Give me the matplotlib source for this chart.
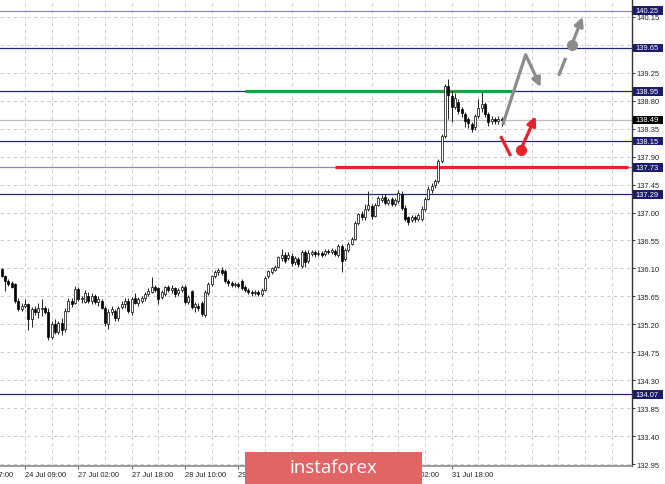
import matplotlib.pyplot as plt
import matplotlib.transforms as mtransforms
from matplotlib.patches import Rectangle

# hourly candles (oldest first)
opens = [136.09, 135.98, 135.90, 135.86, 135.85, 135.58, 135.45, 135.50, 135.53, 135.28,
         135.45, 135.40, 135.44, 135.47, 135.40, 134.99, 135.20, 135.08, 135.22, 135.12,
         135.42, 135.58, 135.55, 135.77, 135.60, 135.56, 135.66, 135.58, 135.65, 135.56,
         135.58, 135.47, 135.20, 135.40, 135.42, 135.30, 135.48, 135.53, 135.58, 135.40,
         135.62, 135.55, 135.58, 135.62, 135.69, 135.72, 135.80, 135.78, 135.64, 135.68,
         135.80, 135.76, 135.78, 135.70, 135.75, 135.80, 135.56, 135.73, 135.48, 135.50,
         135.55, 135.35, 135.70, 135.85, 135.98, 136.04, 136.07, 136.06, 135.90, 135.86,
         135.83, 135.85, 135.90, 135.80, 135.76, 135.72, 135.70, 135.72, 135.69, 135.76,
         135.98, 136.04, 136.08, 136.12, 136.26, 136.32, 136.27, 136.30, 136.20, 136.25,
         136.14, 136.37, 136.22, 136.33, 136.36, 136.33, 136.35, 136.33, 136.38, 136.36,
         136.38, 136.32, 136.46, 136.25, 136.40, 136.50, 136.58, 136.83, 136.97, 136.92,
         137.06, 137.10, 136.95, 137.12, 137.20, 137.25, 137.16, 137.22, 137.13, 137.18,
         137.30, 137.08, 136.92, 136.88, 136.93, 136.90, 136.90, 137.06, 137.22, 137.36,
         137.44, 137.50, 137.83, 138.23, 139.04, 138.88, 138.70, 138.78, 138.66, 138.58,
         138.50, 138.42, 138.38, 138.55, 138.68, 138.74, 138.58, 138.47, 138.50, 138.47,
         138.50]
highs = [136.11, 136.00, 135.93, 135.90, 135.87, 135.62, 135.55, 135.60, 135.55, 135.48,
         135.50, 135.55, 135.61, 135.50, 135.46, 135.25, 135.28, 135.26, 135.30, 135.46,
         135.62, 135.63, 135.82, 135.80, 135.66, 135.75, 135.72, 135.70, 135.68, 135.66,
         135.60, 135.50, 135.45, 135.50, 135.45, 135.50, 135.58, 135.62, 135.62, 135.64,
         135.70, 135.64, 135.66, 135.72, 135.78, 135.96, 135.83, 135.80, 135.75, 135.82,
         135.84, 135.83, 135.80, 135.78, 135.84, 135.84, 135.67, 135.76, 135.56, 135.55,
         135.58, 135.75, 135.88, 136.00, 136.08, 136.10, 136.12, 136.09, 135.93, 135.90,
         135.88, 135.88, 135.93, 135.84, 135.79, 135.75, 135.76, 135.75, 135.78, 135.97,
         136.08, 136.13, 136.16, 136.30, 136.41, 136.36, 136.36, 136.34, 136.30, 136.28,
         136.40, 136.40, 136.39, 136.40, 136.39, 136.39, 136.38, 136.41, 136.42, 136.43,
         136.41, 136.50, 136.49, 136.43, 136.52, 136.61, 136.86, 137.00, 137.02, 137.14,
         137.35, 137.14, 137.15, 137.26, 137.28, 137.29, 137.24, 137.25, 137.24, 137.36,
         137.34, 137.12, 136.95, 136.96, 136.96, 137.00, 137.10, 137.25, 137.42, 137.48,
         137.54, 137.86, 138.26, 139.07, 139.15, 138.95, 138.92, 138.82, 138.70, 138.62,
         138.54, 138.46, 138.58, 138.83, 138.94, 138.78, 138.62, 138.55, 138.54, 138.56,
         138.54]
lows = [135.96, 135.74, 135.82, 135.78, 135.55, 135.42, 135.42, 135.47, 135.11, 135.15,
        135.35, 135.30, 135.33, 135.36, 134.95, 134.96, 135.04, 135.05, 135.03, 135.07,
        135.40, 135.48, 135.52, 135.57, 135.55, 135.54, 135.55, 135.52, 135.52, 135.50,
        135.44, 135.17, 135.13, 135.35, 135.25, 135.26, 135.45, 135.47, 135.38, 135.35,
        135.52, 135.50, 135.54, 135.58, 135.65, 135.70, 135.72, 135.53, 135.60, 135.65,
        135.72, 135.70, 135.64, 135.66, 135.72, 135.52, 135.53, 135.45, 135.40, 135.42,
        135.33, 135.32, 135.67, 135.82, 135.95, 136.00, 136.00, 135.87, 135.82, 135.80,
        135.80, 135.79, 135.75, 135.72, 135.69, 135.66, 135.67, 135.65, 135.66, 135.74,
        135.95, 136.01, 136.05, 136.10, 136.22, 136.18, 136.24, 136.14, 136.16, 136.13,
        136.10, 136.12, 136.18, 136.30, 136.29, 136.30, 136.28, 136.30, 136.33, 136.33,
        136.30, 136.29, 136.04, 136.22, 136.37, 136.47, 136.55, 136.80, 136.88, 136.88,
        137.02, 136.90, 136.92, 137.10, 137.17, 137.12, 137.12, 137.10, 137.10, 137.15,
        137.04, 136.86, 136.80, 136.84, 136.85, 136.87, 136.86, 137.03, 137.20, 137.32,
        137.40, 137.48, 137.80, 138.20, 138.50, 138.45, 138.66, 138.58, 138.54, 138.38,
        138.36, 138.30, 138.33, 138.52, 138.62, 138.54, 138.40, 138.42, 138.42, 138.43,
        138.40]
closes = [135.98, 135.90, 135.85, 135.80, 135.58, 135.45, 135.50, 135.53, 135.28, 135.45,
          135.40, 135.46, 135.47, 135.40, 134.99, 135.20, 135.08, 135.22, 135.10, 135.42,
          135.58, 135.52, 135.77, 135.60, 135.63, 135.70, 135.58, 135.65, 135.56, 135.60,
          135.47, 135.22, 135.40, 135.45, 135.30, 135.46, 135.53, 135.58, 135.42, 135.60,
          135.55, 135.60, 135.62, 135.69, 135.74, 135.80, 135.76, 135.61, 135.72, 135.80,
          135.76, 135.79, 135.68, 135.75, 135.80, 135.56, 135.64, 135.48, 135.53, 135.46,
          135.37, 135.72, 135.85, 135.98, 136.04, 136.07, 136.03, 135.90, 135.86, 135.83,
          135.85, 135.82, 135.78, 135.75, 135.72, 135.70, 135.72, 135.69, 135.75, 135.95,
          136.05, 136.10, 136.12, 136.28, 136.32, 136.22, 136.32, 136.18, 136.27, 136.17,
          136.36, 136.20, 136.35, 136.36, 136.33, 136.35, 136.32, 136.38, 136.36, 136.39,
          136.33, 136.46, 136.22, 136.40, 136.50, 136.58, 136.83, 136.97, 136.92, 137.06,
          137.12, 136.95, 137.12, 137.23, 137.24, 137.16, 137.20, 137.13, 137.20, 137.32,
          137.08, 136.90, 136.85, 136.93, 136.89, 136.96, 137.06, 137.22, 137.38, 137.42,
          137.51, 137.83, 138.23, 139.04, 138.90, 138.70, 138.85, 138.63, 138.60, 138.48,
          138.44, 138.35, 138.55, 138.68, 138.74, 138.58, 138.45, 138.50, 138.47, 138.50,
          138.49]

x_labels = ["23 Jul 17:00", "24 Jul 09:00", "27 Jul 02:00", "27 Jul 18:00", "28 Jul 10:00",
            "29 Jul 02:00", "29 Jul 18:00", "30 Jul 10:00", "31 Jul 02:00", "31 Jul 18:00"]
y_ticks = [132.95, 133.40, 133.85, 134.30, 134.75, 135.20, 135.65, 136.10, 136.55,
           137.00, 137.45, 137.90, 138.35, 138.80, 139.25, 139.70, 140.15]

# support / resistance levels
navy_levels = [139.65, 138.95, 138.15, 137.29, 134.07]
light_levels = [140.25, 137.73]
last_price = 138.49

# forecast marks (bar index, price)
gray_path_x = [150.3, 157.2, 161.7]
gray_path_y = [138.41, 139.54, 139.02]
gray_dash_x = [167.1, 169.2]
gray_dash_y = [139.20, 139.49]
gray_dot = (171.0, 139.70)
gray_tip = (174.3, 140.15)
red_dash_x = [149.7, 152.7]
red_dash_y = [138.23, 137.91]
red_dot = (155.7, 138.01)
red_tip = (160.2, 138.55)

fig = plt.figure(figsize=(6.65, 4.85), dpi=100)
ax = fig.add_axes([0, 18 / 485, 632 / 665, 467 / 485])
ax.set_xlim(-0.51, 189.1)
ax.set_ylim(132.918, 140.438)

# grid
grid_kw = dict(color='#c4c4c4', lw=0.6, ls=(0, (4, 4)), zorder=0)
for gx in range(-1, 190, 8):
    ax.axvline(gx, **grid_kw)
for gy in y_ticks:
    ax.axhline(gy, **grid_kw)

# levels
for lv in navy_levels:
    ax.axhline(lv, color='#25257a', lw=0.9, zorder=1)
for lv in light_levels:
    ax.axhline(lv, color='#8a8ac6', lw=0.9, zorder=1)
ax.axhline(last_price, color='#bdbdbd', lw=0.9, zorder=1)

ax.hlines(138.95, 73, 153, color='#1f9e46', lw=2.3, zorder=3)
ax.hlines(137.73, 100, 188, color='#e3222b', lw=2.3, zorder=3)

# candles
idx = list(range(len(closes)))
ax.vlines(idx, lows, highs, color='black', lw=0.6, zorder=4)
for i in idx:
    o, c = opens[i], closes[i]
    bottom = min(o, c)
    h = max(abs(c - o), 0.012)
    face = 'white' if c >= o else 'black'
    ax.add_patch(Rectangle((i - 0.32, bottom), 0.64, h, facecolor=face,
                           edgecolor='black', lw=0.5, zorder=5))

# forecast arrows
gray = '#8c8c8c'
red = '#e8212b'
ax.plot(gray_path_x[:2], gray_path_y[:2], color=gray, lw=2.3, zorder=6,
        solid_capstyle='butt')
ax.annotate('', xy=(gray_path_x[2], gray_path_y[2]), xytext=(gray_path_x[1], gray_path_y[1]),
            arrowprops=dict(arrowstyle='-|>', color=gray, lw=2.3, mutation_scale=13,
                            shrinkA=0, shrinkB=0), zorder=6)
ax.plot(gray_dash_x, gray_dash_y, color=gray, lw=2.3, zorder=6, solid_capstyle='butt')
ax.plot(*gray_dot, 'o', color=gray, ms=7, zorder=6)
ax.annotate('', xy=gray_tip, xytext=gray_dot,
            arrowprops=dict(arrowstyle='-|>', color=gray, lw=2.3, mutation_scale=13,
                            shrinkA=0, shrinkB=0), zorder=6)
ax.plot(red_dash_x, red_dash_y, color=red, lw=2.3, zorder=6, solid_capstyle='butt')
ax.plot(*red_dot, 'o', color=red, ms=7, zorder=6)
ax.annotate('', xy=red_tip, xytext=red_dot,
            arrowprops=dict(arrowstyle='-|>', color=red, lw=2.3, mutation_scale=13,
                            shrinkA=0, shrinkB=0), zorder=6)

# axes look
for s in ['left', 'top']:
    ax.spines[s].set_visible(False)
ax.spines['right'].set_color('#333333')
ax.spines['right'].set_linewidth(1.0)
ax.spines['bottom'].set_color('#8a8a8a')
ax.spines['bottom'].set_linewidth(1.2)

font = 'Liberation Sans'
ax.yaxis.tick_right()
ax.set_yticks(y_ticks)
ax.set_yticklabels(['' if abs(t - 139.70) < 0.01 else f'{t:.2f}' for t in y_ticks],
                   fontsize=5.4, family=font, color='#222222')
ax.tick_params(axis='y', length=2.2, width=0.7, pad=1.2, color='#333333')

x_pos = [7 + 16 * k for k in range(-1, 9)]
ax.set_xticks(x_pos[1:])
ax.set_xticklabels(x_labels[1:], fontsize=5.4, family=font, color='#222222', ha='left')
ax.tick_params(axis='x', length=2.2, width=0.7, pad=1.3, color='#555555')
ax.annotate(x_labels[0], xy=(x_pos[0], 0), xycoords=('data', 'axes fraction'),
            xytext=(0, -3.5), textcoords='offset points', ha='left', va='top',
            fontsize=5.4, family=font, color='#222222', annotation_clip=False)

# price boxes on the right scale
trans = mtransforms.blended_transform_factory(ax.transAxes, ax.transData)
boxes = [(lv, '#1c1c6e') for lv in navy_levels + light_levels] + [(last_price, 'black')]
for lv, col in boxes:
    ax.add_patch(Rectangle((633 / 632, lv - 0.07), 30 / 632, 0.14, transform=trans,
                           facecolor=col, edgecolor='none', clip_on=False, zorder=7))
    ax.text(635.5 / 632, lv, f'{lv:.2f}', transform=trans, ha='left', va='center',
            fontsize=5.4, family=font, color='white', zorder=8, clip_on=False)

# watermark logo
fig.add_artist(Rectangle((245 / 665, 0), 177 / 665, 32 / 485, transform=fig.transFigure,
                         facecolor='#e26565', edgecolor='none'))
fig.text(333 / 665, 17 / 485, 'instaforex', ha='center', va='center', color='white',
         fontsize=13.5, family='Open Sans')

fig.savefig('out.png', dpi=100)
